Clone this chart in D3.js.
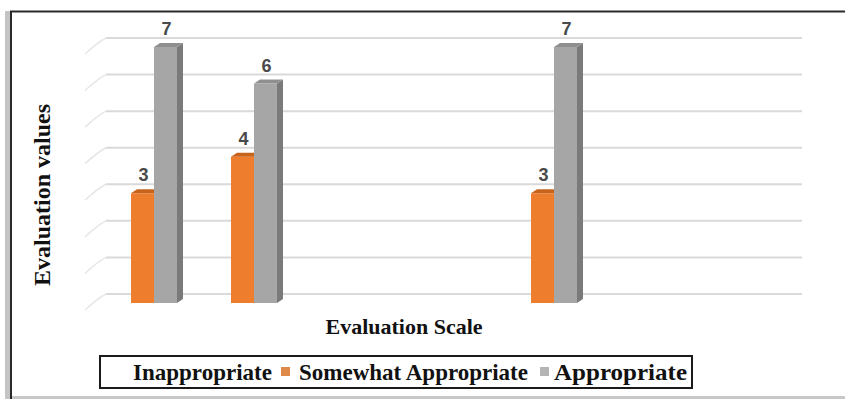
<!DOCTYPE html>
<html>
<head>
<meta charset="utf-8">
<script src="https://cdn.jsdelivr.net/npm/d3@7"></script>
<style>
  html, body { margin: 0; padding: 0; background: #ffffff; }
  svg { display: block; }
</style>
</head>
<body>
<svg id="chart" width="845" height="399"></svg>
<script>
// Evaluation results per item, three rating levels
const categories = ["Item 1", "Item 2", "Item 3", "Item 4", "Item 5", "Item 6", "Item 7"];
const seriesNames = ["Inappropriate", "Somewhat Appropriate", "Appropriate"];
const inappropriate = [0, 0, 0, 0, 0, 0, 0];
const somewhatAppropriate = [3, 4, 0, 0, 3, 0, 0];
const appropriate = [7, 6, 0, 0, 7, 0, 0];
const gridValues = [0, 1, 2, 3, 4, 5, 6, 7];

const seriesValues = [inappropriate, somewhatAppropriate, appropriate];
const palette = {
  "Inappropriate": { front: "#ffffff", top: "#ffffff", side: "#ffffff", legend: "#ffffff" },
  "Somewhat Appropriate": { front: "#ee7d2e", top: "#c8631c", side: "#b85a18", legend: "#e08a4a" },
  "Appropriate": { front: "#a6a6a6", top: "#8f8f8f", side: "#7a7a7a", legend: "#b4b4b4" }
};

const svg = d3.select("#chart");

// outer frame
svg.append("rect").attr("x", 5).attr("y", 11).attr("width", 5).attr("height", 388).attr("fill", "#c4c4c4");
svg.append("line").attr("x1", 11).attr("x2", 11).attr("y1", 11).attr("y2", 399)
  .attr("stroke", "#2a2a2a").attr("stroke-width", 2);
svg.append("line").attr("x1", 10).attr("x2", 845).attr("y1", 11.5).attr("y2", 11.5)
  .attr("stroke", "#2a2a2a").attr("stroke-width", 2);
svg.append("rect").attr("x", 12).attr("y", 396).attr("width", 833).attr("height", 3).attr("fill", "#c8c8c8");

// 3D geometry
const floorFront = 303;
const wallShift = 9;            // back wall sits above the front baseline
const sideDx = 21, sideDy = 16; // left side wall slant
const barDx = 6, barDy = 4;     // bar depth

const y = d3.scaleLinear().domain([0, 7]).range([floorFront, 47]);
const x0 = d3.scaleBand().domain(categories).range([93, 793]);
const x1 = d3.scaleBand().domain(seriesNames).range([15, 84]);

// gridlines on the back wall and left side wall
const grid = svg.append("g");
gridValues.forEach(v => {
  const gy = y(v) - wallShift;
  grid.append("line").attr("x1", 106).attr("x2", 802).attr("y1", gy).attr("y2", gy)
    .attr("stroke", "#d9d9d9").attr("stroke-width", 2);
  grid.append("path")
    .attr("d", `M${106 - sideDx},${gy + sideDy} Q${98},${gy + 4} ${106},${gy}`)
    .attr("fill", "none").attr("stroke", "#e6e6e6").attr("stroke-width", 1.5);
});

// bars
const bars = svg.append("g");
const w = x1.bandwidth();
categories.forEach((cat, ci) => {
  seriesNames.forEach((s, si) => {
    const v = seriesValues[si][ci];
    if (!v) return;
    const c = palette[s];
    const bx = x0(cat) + x1(s);
    const by = y(v);
    const g = bars.append("g");
    g.append("path")
      .attr("d", `M${bx + w},${by} L${bx + w + barDx},${by - barDy} L${bx + w + barDx},${floorFront - barDy} L${bx + w},${floorFront} Z`)
      .attr("fill", c.side);
    g.append("rect").attr("x", bx).attr("y", by).attr("width", w).attr("height", floorFront - by)
      .attr("fill", c.front);
    g.append("path")
      .attr("d", `M${bx},${by} L${bx + barDx},${by - barDy} L${bx + w + barDx},${by - barDy} L${bx + w},${by} Z`)
      .attr("fill", c.top);
  });
});

// value labels
const labels = svg.append("g");
categories.forEach((cat, ci) => {
  seriesNames.forEach((s, si) => {
    const v = seriesValues[si][ci];
    if (!v) return;
    labels.append("text")
      .attr("x", x0(cat) + x1(s) + w / 2 + 1)
      .attr("y", y(v) - 12)
      .attr("text-anchor", "middle")
      .attr("font-family", "'Liberation Sans', Arial, sans-serif")
      .attr("font-weight", "bold")
      .attr("font-size", 18)
      .attr("fill", "#4a4a4a")
      .text(v);
  });
});

// axis titles
svg.append("text")
  .attr("transform", "translate(50,195) rotate(-90)")
  .attr("text-anchor", "middle")
  .attr("font-family", "'Liberation Serif', 'Times New Roman', serif")
  .attr("font-weight", "bold")
  .attr("font-size", 24)
  .attr("fill", "#111")
  .text("Evaluation values");

svg.append("text")
  .attr("x", 404).attr("y", 334)
  .attr("text-anchor", "middle")
  .attr("font-family", "'Liberation Serif', 'Times New Roman', serif")
  .attr("font-weight", "bold")
  .attr("font-size", 22)
  .attr("fill", "#111")
  .text("Evaluation Scale");

// legend
const legend = svg.append("g");
legend.append("rect").attr("x", 100).attr("y", 356).attr("width", 592).attr("height", 32)
  .attr("fill", "#ffffff").attr("stroke", "#1a1a1a").attr("stroke-width", 2);
const legendItems = [
  { name: seriesNames[0], mx: 120, tx: 133, len: 139 },
  { name: seriesNames[1], mx: 281, tx: 299, len: 229 },
  { name: seriesNames[2], mx: 540, tx: 554, len: 133 }
];
legendItems.forEach(it => {
  legend.append("rect").attr("x", it.mx).attr("y", 367).attr("width", 9).attr("height", 9)
    .attr("fill", palette[it.name].legend);
  legend.append("text")
    .attr("x", it.tx).attr("y", 380)
    .attr("font-family", "'Liberation Serif', 'Times New Roman', serif")
    .attr("font-weight", "bold")
    .attr("font-size", 23)
    .attr("textLength", it.len)
    .attr("lengthAdjust", "spacingAndGlyphs")
    .attr("fill", "#111")
    .text(it.name);
});
</script>
</body>
</html>
